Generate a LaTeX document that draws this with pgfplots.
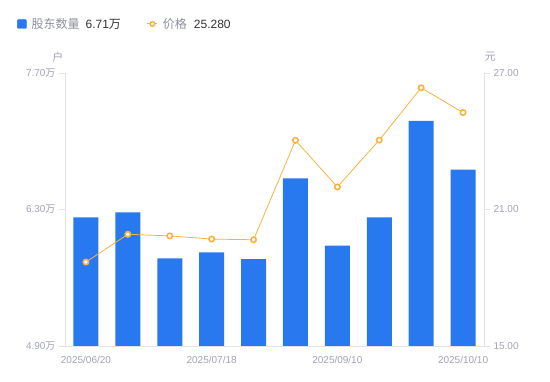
\documentclass[border=0pt]{standalone}
\usepackage{fontspec}
\setmainfont{Liberation Sans}
\newfontfamily\cjk{Noto Sans CJK SC}
\usepackage{pgfplots}
\pgfplotsset{compat=1.18}
\definecolor{barblue}{HTML}{2878F0}
\definecolor{lineorange}{HTML}{F7B43C}
\definecolor{ticklab}{HTML}{A0A3B1}
\definecolor{axisline}{HTML}{E3E3E6}
\definecolor{legtext}{HTML}{8C8F9C}
\definecolor{valtext}{HTML}{333333}
\begin{document}
\begin{tikzpicture}
\useasboundingbox (-65pt,-35pt) rectangle (485pt,346pt);
\begin{axis}[
  at={(0pt,0pt)}, anchor=south west, scale only axis,
  width=419pt, height=273pt,
  xmin=-0.5, xmax=9.5, ymin=4.9, ymax=7.7,
  axis x line*=bottom, axis y line*=left,
  axis line style={-, draw=axisline, line width=0.8pt},
  ybar, bar width=25pt,
  xtick={0,3,6,9},
  xticklabels={2025/06/20,2025/07/18,2025/09/10,2025/10/10},
  ytick={4.9,6.3,7.7},
  yticklabels={4.90{\cjk 万},6.30{\cjk 万},7.70{\cjk 万}},
  tick label style={font=\fontsize{10}{12}\selectfont, text=ticklab},
  x tick label style={yshift=-1pt},
  xtick style={draw=none},
  ytick style={draw=axisline, line width=0.8pt},
  tick align=outside, major tick length=6pt,
  clip=false,
]
\addplot[fill=barblue, draw=none] coordinates {
 (0,6.22) (1,6.27) (2,5.80) (3,5.86) (4,5.79)
 (5,6.62) (6,5.93) (7,6.22) (8,7.21) (9,6.71)};
\node[font=\cjk\fontsize{11}{13}\selectfont, text=ticklab] at (rel axis cs:-0.017,1.059) {户};
\end{axis}
\begin{axis}[
  at={(0pt,0pt)}, anchor=south west, scale only axis,
  width=419pt, height=273pt,
  xmin=-0.5, xmax=9.5, ymin=15, ymax=27,
  axis x line=none, axis y line*=right,
  axis line style={-, draw=axisline, line width=0.8pt},
  ytick={15,21,27}, yticklabels={15.00,21.00,27.00},
  tick label style={font=\fontsize{10}{12}\selectfont, text=ticklab},
  ytick style={draw=axisline, line width=0.8pt},
  tick align=outside, major tick length=6pt,
  clip=false,
  legend style={at={(-0.1146,1.1795)}, anchor=west, draw=none, fill=none,
    inner sep=0pt, legend columns=-1,
    nodes={inner sep=0pt, font=\fontsize{12}{14}\selectfont},
    /tikz/every even column/.append style={column sep=26pt}},
  legend cell align=left,
]
\addlegendimage{legend image code/.code={\fill[barblue, rounded corners=1pt] (0pt,-4.5pt) rectangle (9pt,4.5pt);}}
\addlegendentry{\hspace{5pt}{\color{legtext}\cjk 股东数量}\hspace{6pt}{\color{valtext}6.71{\cjk 万}}}
\addplot[lineorange, line width=0.8pt, mark=*, mark size=2.7pt,
  mark options={draw=lineorange, fill=white, line width=1.6pt},
  legend image code/.code={\draw[lineorange, line width=1pt] (0pt,0pt) -- (10pt,0pt);
    \draw[lineorange, fill=white, line width=1.5pt] (5pt,0pt) circle (2.3pt);}]
 coordinates {
 (0,18.69) (1,19.91) (2,19.84) (3,19.70) (4,19.67)
 (5,24.04) (6,21.99) (7,24.05) (8,26.35) (9,25.26)};
\addlegendentry{\hspace{5pt}{\color{legtext}\cjk 价格}\hspace{7pt}{\color{valtext}25.280}}
\node[font=\cjk\fontsize{11}{13}\selectfont, text=ticklab] at (rel axis cs:1.015,1.059) {元};
\end{axis}
\end{tikzpicture}
\end{document}
